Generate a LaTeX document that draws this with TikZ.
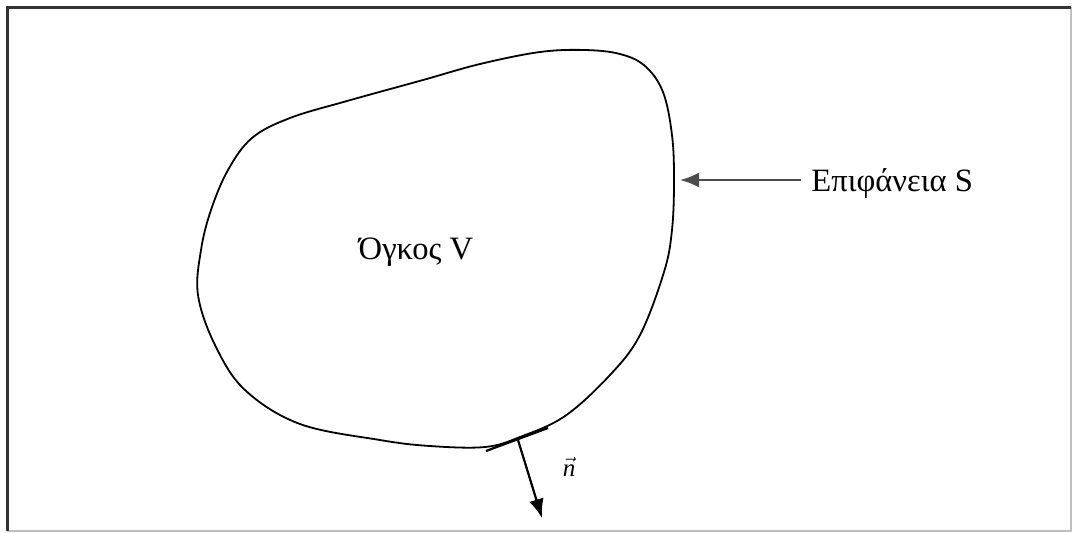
\documentclass[tikz,border=0pt]{standalone}
\usepackage{fontspec}
\setmainfont{Liberation Serif}
\usepackage{tikz}
\usetikzlibrary{positioning,arrows.meta,calc}

\begin{document}
\begin{tikzpicture}[
  x=0.5pt, y=-0.5pt,
  lbl/.style={font=\fontsize{16.3}{19}\selectfont, inner sep=0pt},
  arr/.style={-{Latex[length=9.5pt,width=7.5pt]}, line width=1.1pt},
  body/.style={line width=0.9pt, line join=round}
]
\useasboundingbox (0,0) rectangle (1072,532);
% frame
\draw[black!25, line width=1.2pt] (1071,7) -- (1071,531) -- (7,531);
\draw[black!80, line width=1.5pt] (7,531) -- (7,7) -- (1071,7);

% volume boundary
\draw[body] plot[smooth cycle, tension=0.6] coordinates {
  (198,295) (201,250) (211,210) (228,170) (252,138) (290,118) (347,101)
  (423,80) (480,64) (540,52) (585,50) (620,54) (645,66) (663,92)
  (672,135) (674,180) (672,230) (664,272) (640,335) (610,375)
  (565,416) (520,437) (485,447) (430,446) (380,440) (300,424)
  (245,390) (215,345)};
% tangent mark
\draw[line width=1.1pt] (486,451) -- (548,428);

\node[lbl] (vol) at (416,252) {Όγκος V};
\node[lbl, anchor=west] (surf) at (811,183) {Επιφάνεια S};
\coordinate (S) at (680,180);
\draw[arr, black!70] (surf.west) ++(-10,-3) coordinate (tail) (tail) -- (S);

\coordinate (base) at (518,440);
\coordinate (tip) at (542,518);
\draw[arr] (base) -- (tip);
\node[font=\fontsize{12.5}{14}\selectfont, inner sep=0pt] (nvec) at (569,467) {$\vec{\textit{n}}$};
\end{tikzpicture}
\end{document}
